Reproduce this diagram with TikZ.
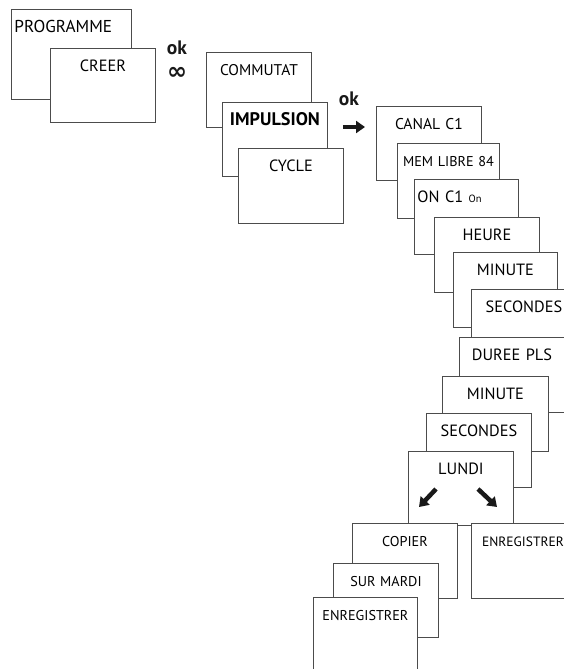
\documentclass[tikz,border=0pt]{standalone}
\usepackage{fontspec}
\setmainfont{PT Sans}
\newfontfamily\symbfont{DejaVu Sans}
\usetikzlibrary{positioning}
\usetikzlibrary{arrows.meta}
\usetikzlibrary{calc}

\begin{document}
\begin{tikzpicture}[x=1pt,y=-1pt]
	\tikzset{
		screen/.style={rectangle, draw=black!70, line width=0.9pt, fill=white, anchor=north west, text width=105pt, inner xsep=0pt, inner ysep=10pt, text height=13pt, text depth=42pt, align=center, font=\fontsize{16.3}{18}\selectfont, text=black},
		leftscreen/.style={screen, align=left, inner xsep=3pt},
		small/.style={font=\fontsize{14.2}{16}\selectfont},
		oklabel/.style={anchor=base, font=\fontsize{19.5}{20}\selectfont\bfseries, text=black!90, inner sep=0pt},
		bigarrow/.style={-{Triangle[length=9pt,width=12pt]}, line width=4.5pt, black!90},
	}
	\useasboundingbox (0,0) rectangle (564,669);
	\clip (0,0) rectangle (564,669);

	% first menu
	\node[leftscreen, text width=114pt, text depth=57pt, font=\fontsize{17.2}{18}\selectfont] (prog) at (11,9) {PROGRAMME};
	\node[screen, text depth=41pt] (creer) at (50,48) {CREER};
	\node[oklabel] (ok1) at (177,55) {ok};
	\node[text=black!90, inner sep=0pt, font=\symbfont\bfseries\fontsize{24}{24}\selectfont] (inf) at (177,73) {∞};

	% mode
	\node[screen, font=\fontsize{15.5}{18}\selectfont] (commut) at (206,52) {COMMUTAT};
	\node[screen, text depth=41pt, font=\fontsize{18.2}{18}\selectfont\bfseries] (impuls) at (222,102) {IMPULSION};
	\node[screen] (cycle) at (238,148) {CYCLE};
	\node[oklabel] (ok2) at (349,105) {ok};

	% impulse settings
	\node[screen, text depth=41pt, font=\fontsize{15.6}{18}\selectfont] (canal) at (376,106) {CANAL C1};
	\node[screen, small, text width=102pt] (memlibre) at ([shift={(21,37)}]canal.north west) {MEM LIBRE 84};
	\node[leftscreen, text width=98pt] (onc) at ([shift={(17,36)}]memlibre.north west) {ON C1 {\fontsize{10.5}{12}\selectfont On}};
	\node[screen] (heure) at ([shift={(20,38)}]onc.north west) {HEURE};
	\node[screen, text width=104pt] (minute) at ([shift={(19,35)}]heure.north west) {MINUTE};
	\node[screen] (secondes) at ([shift={(18,37)}]minute.north west) {SECONDES};
	\node[screen] (duree) at ([shift={(-12,48)}]secondes.north west) {DUREE PLS};
	\node[screen, text width=106pt] (minuteb) at ([shift={(-17,39)}]duree.north west) {MINUTE};
	\node[screen, text depth=41pt] (secondesb) at ([shift={(-16,37)}]minuteb.north west) {SECONDES};
	\node[screen, text depth=41pt] (lundi) at ([shift={(-18,38)}]secondesb.north west) {LUNDI};

	\draw[bigarrow] ($(impuls.north east)+(15,25)$) -- ($(canal.north west)+(-11,21)$);
	\draw[bigarrow] ($(lundi.north west)+(28,38)$) -- ($(lundi.north west)+(11,56)$);
	\draw[bigarrow] ($(lundi.north west)+(70,38)$) -- ($(lundi.north west)+(89,56)$);

	% copy or save
	\node[screen, small] (copier) at (352,523) {COPIER};
	\node[screen, font=\fontsize{13.5}{16}\selectfont] (enregr) at (471,523) {ENREGISTRER\hspace*{2pt}};
	\node[screen, small, text depth=41pt] (surmardi) at ([shift={(-19,40)}]copier.north west) {SUR MARDI};
	\node[screen, small, text width=104pt] (enregl) at ([shift={(-20,34)}]surmardi.north west) {ENREGISTRER};
\end{tikzpicture}
\end{document}
